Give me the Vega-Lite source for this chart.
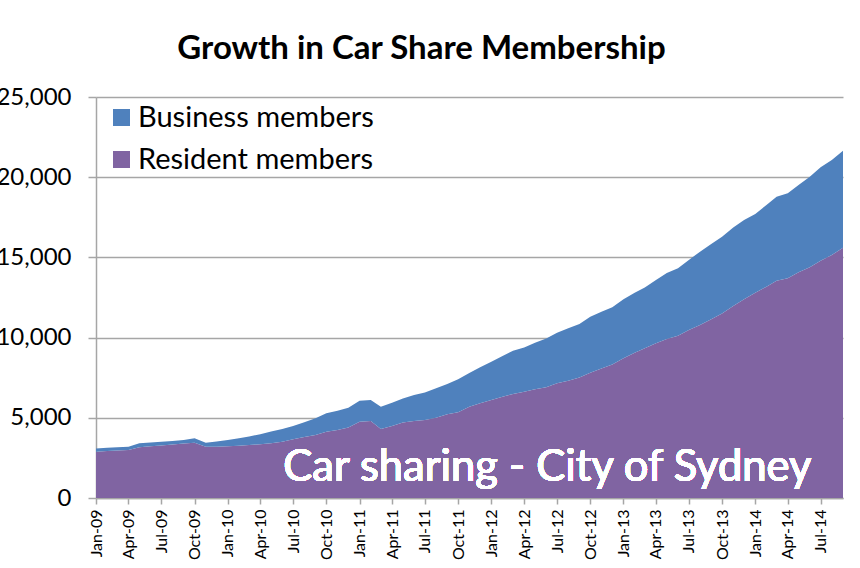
{
  "$schema": "https://vega.github.io/schema/vega-lite/v6.json",
  "width": 747,
  "height": 401,
  "autosize": "none",
  "padding": {"left": 96, "top": 97, "right": 17, "bottom": 70},
  "background": "white",
  "config": {
    "font": "Lato",
    "view": {"stroke": null}
  },
  "title": {
    "text": "Growth in Car Share Membership",
    "font": "Lato",
    "fontSize": 33,
    "fontWeight": "bold",
    "color": "#000000",
    "anchor": "middle",
    "dx": -48,
    "offset": 19
  },
  "data": {
    "values": [
      {"month": "2009-01-01", "type": "Resident members", "value": 2890},
      {"month": "2009-02-01", "type": "Resident members", "value": 2930},
      {"month": "2009-03-01", "type": "Resident members", "value": 2960},
      {"month": "2009-04-01", "type": "Resident members", "value": 3000},
      {"month": "2009-05-01", "type": "Resident members", "value": 3170},
      {"month": "2009-06-01", "type": "Resident members", "value": 3230},
      {"month": "2009-07-01", "type": "Resident members", "value": 3280},
      {"month": "2009-08-01", "type": "Resident members", "value": 3330},
      {"month": "2009-09-01", "type": "Resident members", "value": 3400},
      {"month": "2009-10-01", "type": "Resident members", "value": 3450},
      {"month": "2009-11-01", "type": "Resident members", "value": 3200},
      {"month": "2009-12-01", "type": "Resident members", "value": 3200},
      {"month": "2010-01-01", "type": "Resident members", "value": 3220},
      {"month": "2010-02-01", "type": "Resident members", "value": 3260},
      {"month": "2010-03-01", "type": "Resident members", "value": 3300},
      {"month": "2010-04-01", "type": "Resident members", "value": 3350},
      {"month": "2010-05-01", "type": "Resident members", "value": 3420},
      {"month": "2010-06-01", "type": "Resident members", "value": 3500},
      {"month": "2010-07-01", "type": "Resident members", "value": 3660},
      {"month": "2010-08-01", "type": "Resident members", "value": 3800},
      {"month": "2010-09-01", "type": "Resident members", "value": 3930},
      {"month": "2010-10-01", "type": "Resident members", "value": 4130},
      {"month": "2010-11-01", "type": "Resident members", "value": 4240},
      {"month": "2010-12-01", "type": "Resident members", "value": 4400},
      {"month": "2011-01-01", "type": "Resident members", "value": 4760},
      {"month": "2011-02-01", "type": "Resident members", "value": 4800},
      {"month": "2011-03-01", "type": "Resident members", "value": 4300},
      {"month": "2011-04-01", "type": "Resident members", "value": 4490},
      {"month": "2011-05-01", "type": "Resident members", "value": 4700},
      {"month": "2011-06-01", "type": "Resident members", "value": 4800},
      {"month": "2011-07-01", "type": "Resident members", "value": 4860},
      {"month": "2011-08-01", "type": "Resident members", "value": 5010},
      {"month": "2011-09-01", "type": "Resident members", "value": 5220},
      {"month": "2011-10-01", "type": "Resident members", "value": 5340},
      {"month": "2011-11-01", "type": "Resident members", "value": 5690},
      {"month": "2011-12-01", "type": "Resident members", "value": 5900},
      {"month": "2012-01-01", "type": "Resident members", "value": 6110},
      {"month": "2012-02-01", "type": "Resident members", "value": 6320},
      {"month": "2012-03-01", "type": "Resident members", "value": 6480},
      {"month": "2012-04-01", "type": "Resident members", "value": 6630},
      {"month": "2012-05-01", "type": "Resident members", "value": 6780},
      {"month": "2012-06-01", "type": "Resident members", "value": 6900},
      {"month": "2012-07-01", "type": "Resident members", "value": 7150},
      {"month": "2012-08-01", "type": "Resident members", "value": 7310},
      {"month": "2012-09-01", "type": "Resident members", "value": 7520},
      {"month": "2012-10-01", "type": "Resident members", "value": 7810},
      {"month": "2012-11-01", "type": "Resident members", "value": 8080},
      {"month": "2012-12-01", "type": "Resident members", "value": 8330},
      {"month": "2013-01-01", "type": "Resident members", "value": 8710},
      {"month": "2013-02-01", "type": "Resident members", "value": 9060},
      {"month": "2013-03-01", "type": "Resident members", "value": 9330},
      {"month": "2013-04-01", "type": "Resident members", "value": 9640},
      {"month": "2013-05-01", "type": "Resident members", "value": 9920},
      {"month": "2013-06-01", "type": "Resident members", "value": 10120},
      {"month": "2013-07-01", "type": "Resident members", "value": 10470},
      {"month": "2013-08-01", "type": "Resident members", "value": 10790},
      {"month": "2013-09-01", "type": "Resident members", "value": 11140},
      {"month": "2013-10-01", "type": "Resident members", "value": 11510},
      {"month": "2013-11-01", "type": "Resident members", "value": 11970},
      {"month": "2013-12-01", "type": "Resident members", "value": 12390},
      {"month": "2014-01-01", "type": "Resident members", "value": 12800},
      {"month": "2014-02-01", "type": "Resident members", "value": 13170},
      {"month": "2014-03-01", "type": "Resident members", "value": 13550},
      {"month": "2014-04-01", "type": "Resident members", "value": 13700},
      {"month": "2014-05-01", "type": "Resident members", "value": 14070},
      {"month": "2014-06-01", "type": "Resident members", "value": 14380},
      {"month": "2014-07-01", "type": "Resident members", "value": 14790},
      {"month": "2014-08-01", "type": "Resident members", "value": 15150},
      {"month": "2014-09-01", "type": "Resident members", "value": 15600},
      {"month": "2009-01-01", "type": "Business members", "value": 190},
      {"month": "2009-02-01", "type": "Business members", "value": 200},
      {"month": "2009-03-01", "type": "Business members", "value": 200},
      {"month": "2009-04-01", "type": "Business members", "value": 200},
      {"month": "2009-05-01", "type": "Business members", "value": 240},
      {"month": "2009-06-01", "type": "Business members", "value": 230},
      {"month": "2009-07-01", "type": "Business members", "value": 230},
      {"month": "2009-08-01", "type": "Business members", "value": 230},
      {"month": "2009-09-01", "type": "Business members", "value": 220},
      {"month": "2009-10-01", "type": "Business members", "value": 270},
      {"month": "2009-11-01", "type": "Business members", "value": 250},
      {"month": "2009-12-01", "type": "Business members", "value": 330},
      {"month": "2010-01-01", "type": "Business members", "value": 400},
      {"month": "2010-02-01", "type": "Business members", "value": 460},
      {"month": "2010-03-01", "type": "Business members", "value": 540},
      {"month": "2010-04-01", "type": "Business members", "value": 620},
      {"month": "2010-05-01", "type": "Business members", "value": 730},
      {"month": "2010-06-01", "type": "Business members", "value": 800},
      {"month": "2010-07-01", "type": "Business members", "value": 830},
      {"month": "2010-08-01", "type": "Business members", "value": 930},
      {"month": "2010-09-01", "type": "Business members", "value": 1040},
      {"month": "2010-10-01", "type": "Business members", "value": 1150},
      {"month": "2010-11-01", "type": "Business members", "value": 1200},
      {"month": "2010-12-01", "type": "Business members", "value": 1230},
      {"month": "2011-01-01", "type": "Business members", "value": 1310},
      {"month": "2011-02-01", "type": "Business members", "value": 1310},
      {"month": "2011-03-01", "type": "Business members", "value": 1390},
      {"month": "2011-04-01", "type": "Business members", "value": 1450},
      {"month": "2011-05-01", "type": "Business members", "value": 1510},
      {"month": "2011-06-01", "type": "Business members", "value": 1620},
      {"month": "2011-07-01", "type": "Business members", "value": 1710},
      {"month": "2011-08-01", "type": "Business members", "value": 1830},
      {"month": "2011-09-01", "type": "Business members", "value": 1890},
      {"month": "2011-10-01", "type": "Business members", "value": 2060},
      {"month": "2011-11-01", "type": "Business members", "value": 2100},
      {"month": "2011-12-01", "type": "Business members", "value": 2250},
      {"month": "2012-01-01", "type": "Business members", "value": 2390},
      {"month": "2012-02-01", "type": "Business members", "value": 2530},
      {"month": "2012-03-01", "type": "Business members", "value": 2700},
      {"month": "2012-04-01", "type": "Business members", "value": 2760},
      {"month": "2012-05-01", "type": "Business members", "value": 2900},
      {"month": "2012-06-01", "type": "Business members", "value": 3050},
      {"month": "2012-07-01", "type": "Business members", "value": 3160},
      {"month": "2012-08-01", "type": "Business members", "value": 3270},
      {"month": "2012-09-01", "type": "Business members", "value": 3330},
      {"month": "2012-10-01", "type": "Business members", "value": 3490},
      {"month": "2012-11-01", "type": "Business members", "value": 3530},
      {"month": "2012-12-01", "type": "Business members", "value": 3560},
      {"month": "2013-01-01", "type": "Business members", "value": 3680},
      {"month": "2013-02-01", "type": "Business members", "value": 3740},
      {"month": "2013-03-01", "type": "Business members", "value": 3800},
      {"month": "2013-04-01", "type": "Business members", "value": 3950},
      {"month": "2013-05-01", "type": "Business members", "value": 4100},
      {"month": "2013-06-01", "type": "Business members", "value": 4200},
      {"month": "2013-07-01", "type": "Business members", "value": 4370},
      {"month": "2013-08-01", "type": "Business members", "value": 4570},
      {"month": "2013-09-01", "type": "Business members", "value": 4690},
      {"month": "2013-10-01", "type": "Business members", "value": 4780},
      {"month": "2013-11-01", "type": "Business members", "value": 4900},
      {"month": "2013-12-01", "type": "Business members", "value": 4940},
      {"month": "2014-01-01", "type": "Business members", "value": 4900},
      {"month": "2014-02-01", "type": "Business members", "value": 5100},
      {"month": "2014-03-01", "type": "Business members", "value": 5230},
      {"month": "2014-04-01", "type": "Business members", "value": 5300},
      {"month": "2014-05-01", "type": "Business members", "value": 5440},
      {"month": "2014-06-01", "type": "Business members", "value": 5650},
      {"month": "2014-07-01", "type": "Business members", "value": 5830},
      {"month": "2014-08-01", "type": "Business members", "value": 5920},
      {"month": "2014-09-01", "type": "Business members", "value": 6050}
    ]
  },
  "layer": [
    {
      "mark": {"type": "area", "interpolate": "linear"},
      "encoding": {
        "x": {
          "field": "month",
          "type": "temporal",
          "timeUnit": "utcyearmonth",
          "scale": {"domain": [{"year": 2009, "month": 1, "date": 1, "utc": true}, {"year": 2014, "month": 9, "date": 1, "utc": true}], "nice": false},
          "axis": {
            "title": null,
            "format": "%b-%y",
            "tickCount": {"interval": "month", "step": 3},
            "labelAngle": -90,
            "labelAlign": "right",
            "labelBaseline": "middle",
            "labelFont": "Lato",
            "labelFontSize": 16,
            "labelColor": "#000000",
            "labelPadding": 5,
            "labelOverlap": false,
            "labelFlush": false,
            "grid": false,
            "domainColor": "#a6a6a6",
            "domainWidth": 1.5,
            "tickColor": "#a6a6a6",
            "tickWidth": 1.5,
            "tickSize": 6
          }
        },
        "y": {
          "field": "value",
          "type": "quantitative",
          "aggregate": "sum",
          "stack": "zero",
          "scale": {"domain": [0, 25000], "nice": false},
          "axis": {
            "title": null,
            "values": [0, 5000, 10000, 15000, 20000, 25000],
            "format": ",d",
            "labelFont": "Lato",
            "labelFontSize": 24,
            "labelColor": "#000000",
            "labelPadding": 17,
            "grid": true,
            "gridColor": "#a6a6a6",
            "gridWidth": 1.5,
            "domainColor": "#a6a6a6",
            "domainWidth": 1.5,
            "tickColor": "#a6a6a6",
            "tickWidth": 1.5,
            "tickSize": 8
          }
        },
        "color": {
          "field": "type",
          "type": "nominal",
          "scale": {"domain": ["Business members", "Resident members"], "range": ["#4F81BD", "#8064A2"]},
          "legend": {
            "title": null,
            "orient": "none",
            "legendX": 11,
            "legendY": 6,
            "padding": 0,
            "symbolType": "square",
            "symbolSize": 289,
            "symbolStrokeWidth": 0,
            "symbolOpacity": 1,
            "labelFont": "Lato",
            "labelFontSize": 29,
            "labelColor": "#000000",
            "labelOffset": 2,
            "rowPadding": 12,
            "labelLimit": 400
          }
        },
        "order": {"field": "type", "sort": "descending"}
      }
    },
    {
      "mark": {
        "type": "text",
        "text": "Car sharing - City of Sydney",
        "font": "Lato",
        "fontSize": 43.5,
        "color": "#ffffff",
        "align": "center",
        "baseline": "alphabetic"
      },
      "encoding": {
        "x": {"datum": {"year": 2012, "month": 6, "date": 4, "utc": true}, "type": "temporal"},
        "y": {"datum": 1060, "type": "quantitative"}
      }
    }
  ]
}
